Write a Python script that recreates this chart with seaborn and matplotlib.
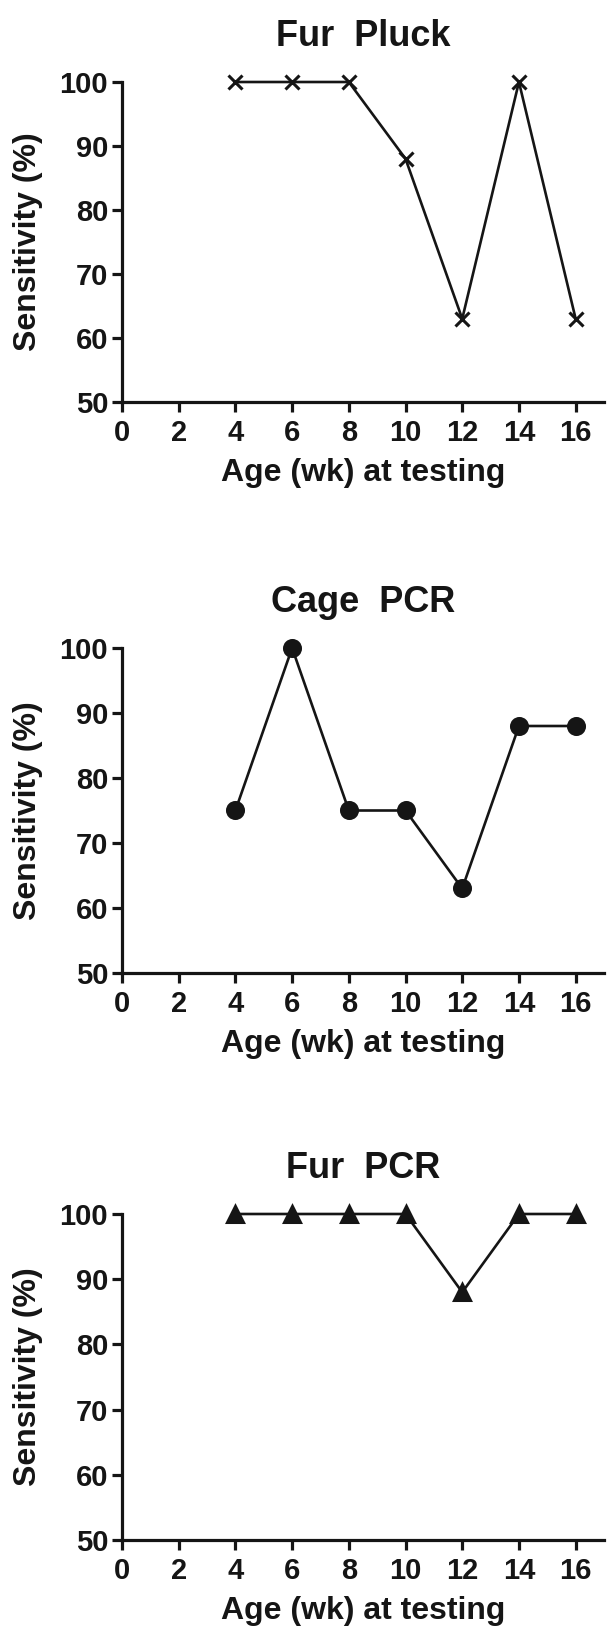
import matplotlib
matplotlib.use("Agg")
import matplotlib.pyplot as plt
import seaborn as sns
import pandas as pd

# age at testing (weeks)
age_wk = [4, 6, 8, 10, 12, 14, 16]

fur_pluck = [100, 100, 100, 88, 63, 100, 63]
cage_pcr = [75, 100, 75, 75, 63, 88, 88]
fur_pcr = [100, 100, 100, 100, 88, 100, 100]

titles = ["Fur  Pluck", "Cage  PCR", "Fur  PCR"]
series = [fur_pluck, cage_pcr, fur_pcr]
markers = ["x", "o", "^"]
marker_sizes = [10, 11.5, 12]

x_ticks = list(range(0, 17, 2))
y_ticks = list(range(50, 101, 10))

sns.set_style("ticks")
plt.rcParams["font.family"] = ["Liberation Sans", "DejaVu Sans"]
plt.rcParams["font.weight"] = "bold"

W, H = 616, 1642
fig = plt.figure(figsize=(W / 100, H / 100), dpi=100)

# (top, bottom) of each axes box in pixels
boxes = [(82, 402), (648, 973), (1214, 1540)]
left, right = 122, 604

ink = "#151515"

for (top, bottom), title, vals, mk, ms in zip(boxes, titles, series, markers, marker_sizes):
    ax = fig.add_axes([left / W, 1 - bottom / H, (right - left) / W, (bottom - top) / H])
    df = pd.DataFrame({"age": age_wk, "sens": vals})
    sns.lineplot(data=df, x="age", y="sens", ax=ax, color=ink, linewidth=1.9,
                 marker=mk, markersize=ms, markeredgecolor=ink,
                 markerfacecolor=ink, markeredgewidth=2.2, clip_on=False)
    ax.set_xlim(0, 17)
    ax.set_ylim(50, 100)
    ax.set_xticks(x_ticks)
    ax.set_yticks(y_ticks)
    sns.despine(ax=ax)
    for s in ["left", "bottom"]:
        ax.spines[s].set_linewidth(2.3)
        ax.spines[s].set_color(ink)
    ax.tick_params(axis="both", length=7, width=2.3, color=ink,
                   labelsize=21, labelcolor=ink)
    ax.tick_params(axis="x", pad=5)
    ax.tick_params(axis="y", pad=3)
    for lab in ax.get_xticklabels() + ax.get_yticklabels():
        lab.set_fontweight("bold")
    ax.set_xlabel("Age (wk) at testing", fontsize=23, fontweight="bold",
                  color=ink, labelpad=8)
    ax.set_ylabel("Sensitivity (%)", fontsize=23, fontweight="bold",
                  color=ink, labelpad=12)
    ax.set_title(title, fontsize=26, fontweight="bold", color=ink, pad=26)

fig.savefig("out.png", dpi=100)
